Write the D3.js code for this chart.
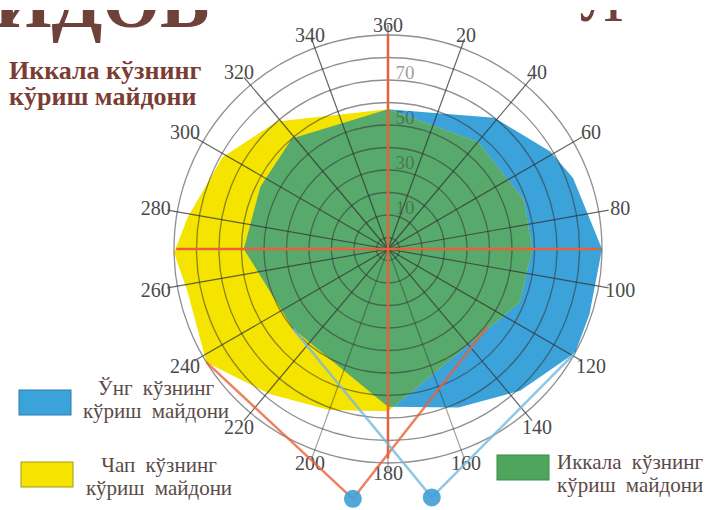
<!DOCTYPE html>
<html>
<head>
<meta charset="utf-8">
<script src="https://cdn.jsdelivr.net/npm/d3@7"></script>
<style>
  body { margin: 0; background: #fff; }
  svg { display: block; }
  text { font-family: "Liberation Serif", "DejaVu Serif", serif; }
</style>
</head>
<body>
<svg width="709" height="510"></svg>
<script>
// visual field, degrees, angle clockwise from top
var rightEyeAngles = [0, 39, 59, 69, 90, 108, 119, 137, 156, 180, 230, 270, 296, 319];
var rightEyeValues = [57, 70, 79, 83, 90, 89, 90, 81, 72, 65, 50, 59, 58, 60];
var leftEyeAngles = [0, 40, 70, 90, 112, 180, 200, 219, 238, 258, 269, 279, 299, 319];
var leftEyeValues = [57, 57, 59, 59, 58, 67, 71, 78, 90, 86, 90, 85, 79, 70];

var ringValues = [0, 10, 20, 30, 40, 50, 60, 70, 80, 90];
var ringLabels = [10, 30, 50, 70];
var spokeAngles = d3.range(0, 360, 20);
var angleLabels = ["360", "20", "40", "60", "80", "100", "120", "140", "160", "180",
                   "200", "220", "240", "260", "280", "300", "320", "340"];

// rays from each eye to the edges of its field
var leftRayAngles = [238, 128];
var leftRayValues = [90, 51];
var rightRayAngles = [119, 230];
var rightRayValues = [90, 50];
var eyeAngles = [188, 170];   // left, right
var eyeDist = 107;

var legendLabels = [["Ўнг кўзнинг", "кўриш майдони"],
                    ["Чап кўзнинг", "кўриш майдони"],
                    ["Иккала кўзнинг", "кўриш майдони"]];
var titleLines = ["Иккала кўзнинг", "кўриш майдони"];

var blue = "#3ba2da", yellow = "#f4e400", green = "#58a96c", orange = "#e8613a";

var svg = d3.select("svg");
var cx = 388, cy = 249;

var r = d3.scaleLinear().domain([0, 90]).range([11.5, 214]);
var R = r(90);
var rad = function (a) { return a * Math.PI / 180; };
function pt(a, v) {
	return [cx + r(v) * Math.sin(rad(a)), cy - r(v) * Math.cos(rad(a))];
}

var radial = d3.lineRadial()
	.angle(function (d) { return rad(d[0]); })
	.radius(function (d) { return r(d[1]); })
	.curve(d3.curveLinearClosed);

var rightPts = rightEyeAngles.map(function (a, i) { return [a, rightEyeValues[i]]; });
var leftPts = leftEyeAngles.map(function (a, i) { return [a, leftEyeValues[i]]; });

var defs = svg.append("defs");
defs.append("clipPath").attr("id", "leftclip")
	.append("path").attr("d", radial(leftPts));

// cut-off heading from the page above (only its lower part shows)
var header = svg.append("g")
	.style("fill", "#6e4239").style("font-weight", "bold").style("font-size", "74px");
header.append("text").attr("x", -6).attr("y", 27).text("ИДОВ");
header.append("text").attr("x", 602).attr("y", 21).attr("text-anchor", "middle")
	.style("font-weight", "normal").style("font-size", "64px").text("Л");
svg.append("rect").attr("x", 0).attr("y", 0).attr("width", 709).attr("height", 10)
	.style("fill", "#fff");

var g = svg.append("g").attr("transform", "translate(" + cx + "," + cy + ")");

g.append("path").attr("d", radial(rightPts)).style("fill", blue);
g.append("path").attr("d", radial(leftPts)).style("fill", yellow);
// both eyes = overlap of the two fields
g.append("g").attr("clip-path", "url(#leftclip)")
	.append("path").attr("d", radial(rightPts)).style("fill", green);

// rings
g.append("g").selectAll("circle")
	.data(ringValues)
	.enter()
	.append("circle")
	.attr("r", function (d) { return r(d); })
	.style("fill", "none")
	.style("stroke", "#333")
	.style("stroke-opacity", 0.55)
	.style("stroke-width", 1.3);

// spokes
g.append("g").selectAll("line")
	.data(spokeAngles)
	.enter()
	.append("line")
	.attr("x1", 0).attr("y1", 0)
	.attr("x2", function (d) { return (R + 10) * Math.sin(rad(d)); })
	.attr("y2", function (d) { return -(R + 10) * Math.cos(rad(d)); })
	.style("stroke", "#333")
	.style("stroke-opacity", function (d) { return d > 140 && d < 220 ? 0.45 : 0.75; })
	.style("stroke-width", 1.2);

// orange axes
g.append("line").attr("x1", 0).attr("x2", 0).attr("y1", -R).attr("y2", r(88))
	.style("stroke", orange).style("stroke-width", 2.5);
g.append("line").attr("x1", -r(89)).attr("x2", r(89)).attr("y1", 0).attr("y2", 0)
	.style("stroke", orange).style("stroke-width", 2.5);

// eye rays
function rays(eyeA, angles, values, color) {
	var e = pt(eyeA, eyeDist);
	angles.forEach(function (a, i) {
		var p = pt(a, values[i]);
		svg.append("line")
			.attr("x1", e[0]).attr("y1", e[1]).attr("x2", p[0]).attr("y2", p[1])
			.style("stroke", color).style("stroke-width", 2.5).style("stroke-opacity", 0.8);
	});
}
rays(eyeAngles[0], leftRayAngles, leftRayValues, orange);
rays(eyeAngles[1], rightRayAngles, rightRayValues, "#76b8e0");

eyeAngles.forEach(function (a) {
	var e = pt(a, eyeDist);
	svg.append("circle").attr("cx", e[0]).attr("cy", e[1]).attr("r", 9)
		.style("fill", "#3f9fd6").style("fill-opacity", 0.9);
});

// ring labels
g.append("g").selectAll("text")
	.data(ringLabels)
	.enter()
	.append("text")
	.attr("x", 17)
	.attr("y", function (d) { return -(r(d) + 8); })
	.attr("text-anchor", "middle")
	.attr("dominant-baseline", "central")
	.style("font-size", "19px")
	.style("fill", "#444")
	.style("fill-opacity", 0.55)
	.text(function (d) { return d; });

// angle labels
function labelR(d) { return R + 10 + 12 * Math.abs(Math.sin(rad(d))); }
g.append("g").selectAll("text")
	.data(spokeAngles)
	.enter()
	.append("text")
	.attr("x", function (d) { return labelR(d) * Math.sin(rad(d)); })
	.attr("y", function (d) { return -labelR(d) * Math.cos(rad(d)); })
	.attr("text-anchor", "middle")
	.attr("dominant-baseline", "central")
	.style("font-size", "20px")
	.style("fill", "#4a4a4a")
	.text(function (d, i) { return angleLabels[i]; });

// title
svg.append("g").selectAll("text")
	.data(titleLines)
	.enter()
	.append("text")
	.attr("x", 9)
	.attr("y", function (d, i) { return 79 + i * 26; })
	.style("font-size", "26px")
	.style("font-weight", "bold")
	.style("fill", "#7b3d33")
	.text(function (d) { return d; });

// legend
var legend = [
	{ color: blue, stroke: "#2a7fb0", x: 19, y: 390, tx: 156, anchor: "middle", ty: 395 },
	{ color: yellow, stroke: "#a89a10", x: 21, y: 462, tx: 159, anchor: "middle", ty: 472 },
	{ color: "#4ea55c", stroke: "#3d8a4a", x: 497, y: 455, tx: 557, anchor: "start", ty: 469 }
];
legend.forEach(function (d, i) {
	svg.append("rect").attr("x", d.x).attr("y", d.y).attr("width", 52).attr("height", 25)
		.style("fill", d.color).style("stroke", d.stroke).style("stroke-width", 1);
	svg.append("g").selectAll("text")
		.data(legendLabels[i])
		.enter()
		.append("text")
		.attr("x", d.tx)
		.attr("y", function (t, j) { return d.ty + j * 23; })
		.attr("text-anchor", d.anchor)
		.style("font-size", "21px")
		.style("word-spacing", "5px")
		.style("fill", "#5a4a46")
		.text(function (t) { return t; });
});
</script>
</body>
</html>
